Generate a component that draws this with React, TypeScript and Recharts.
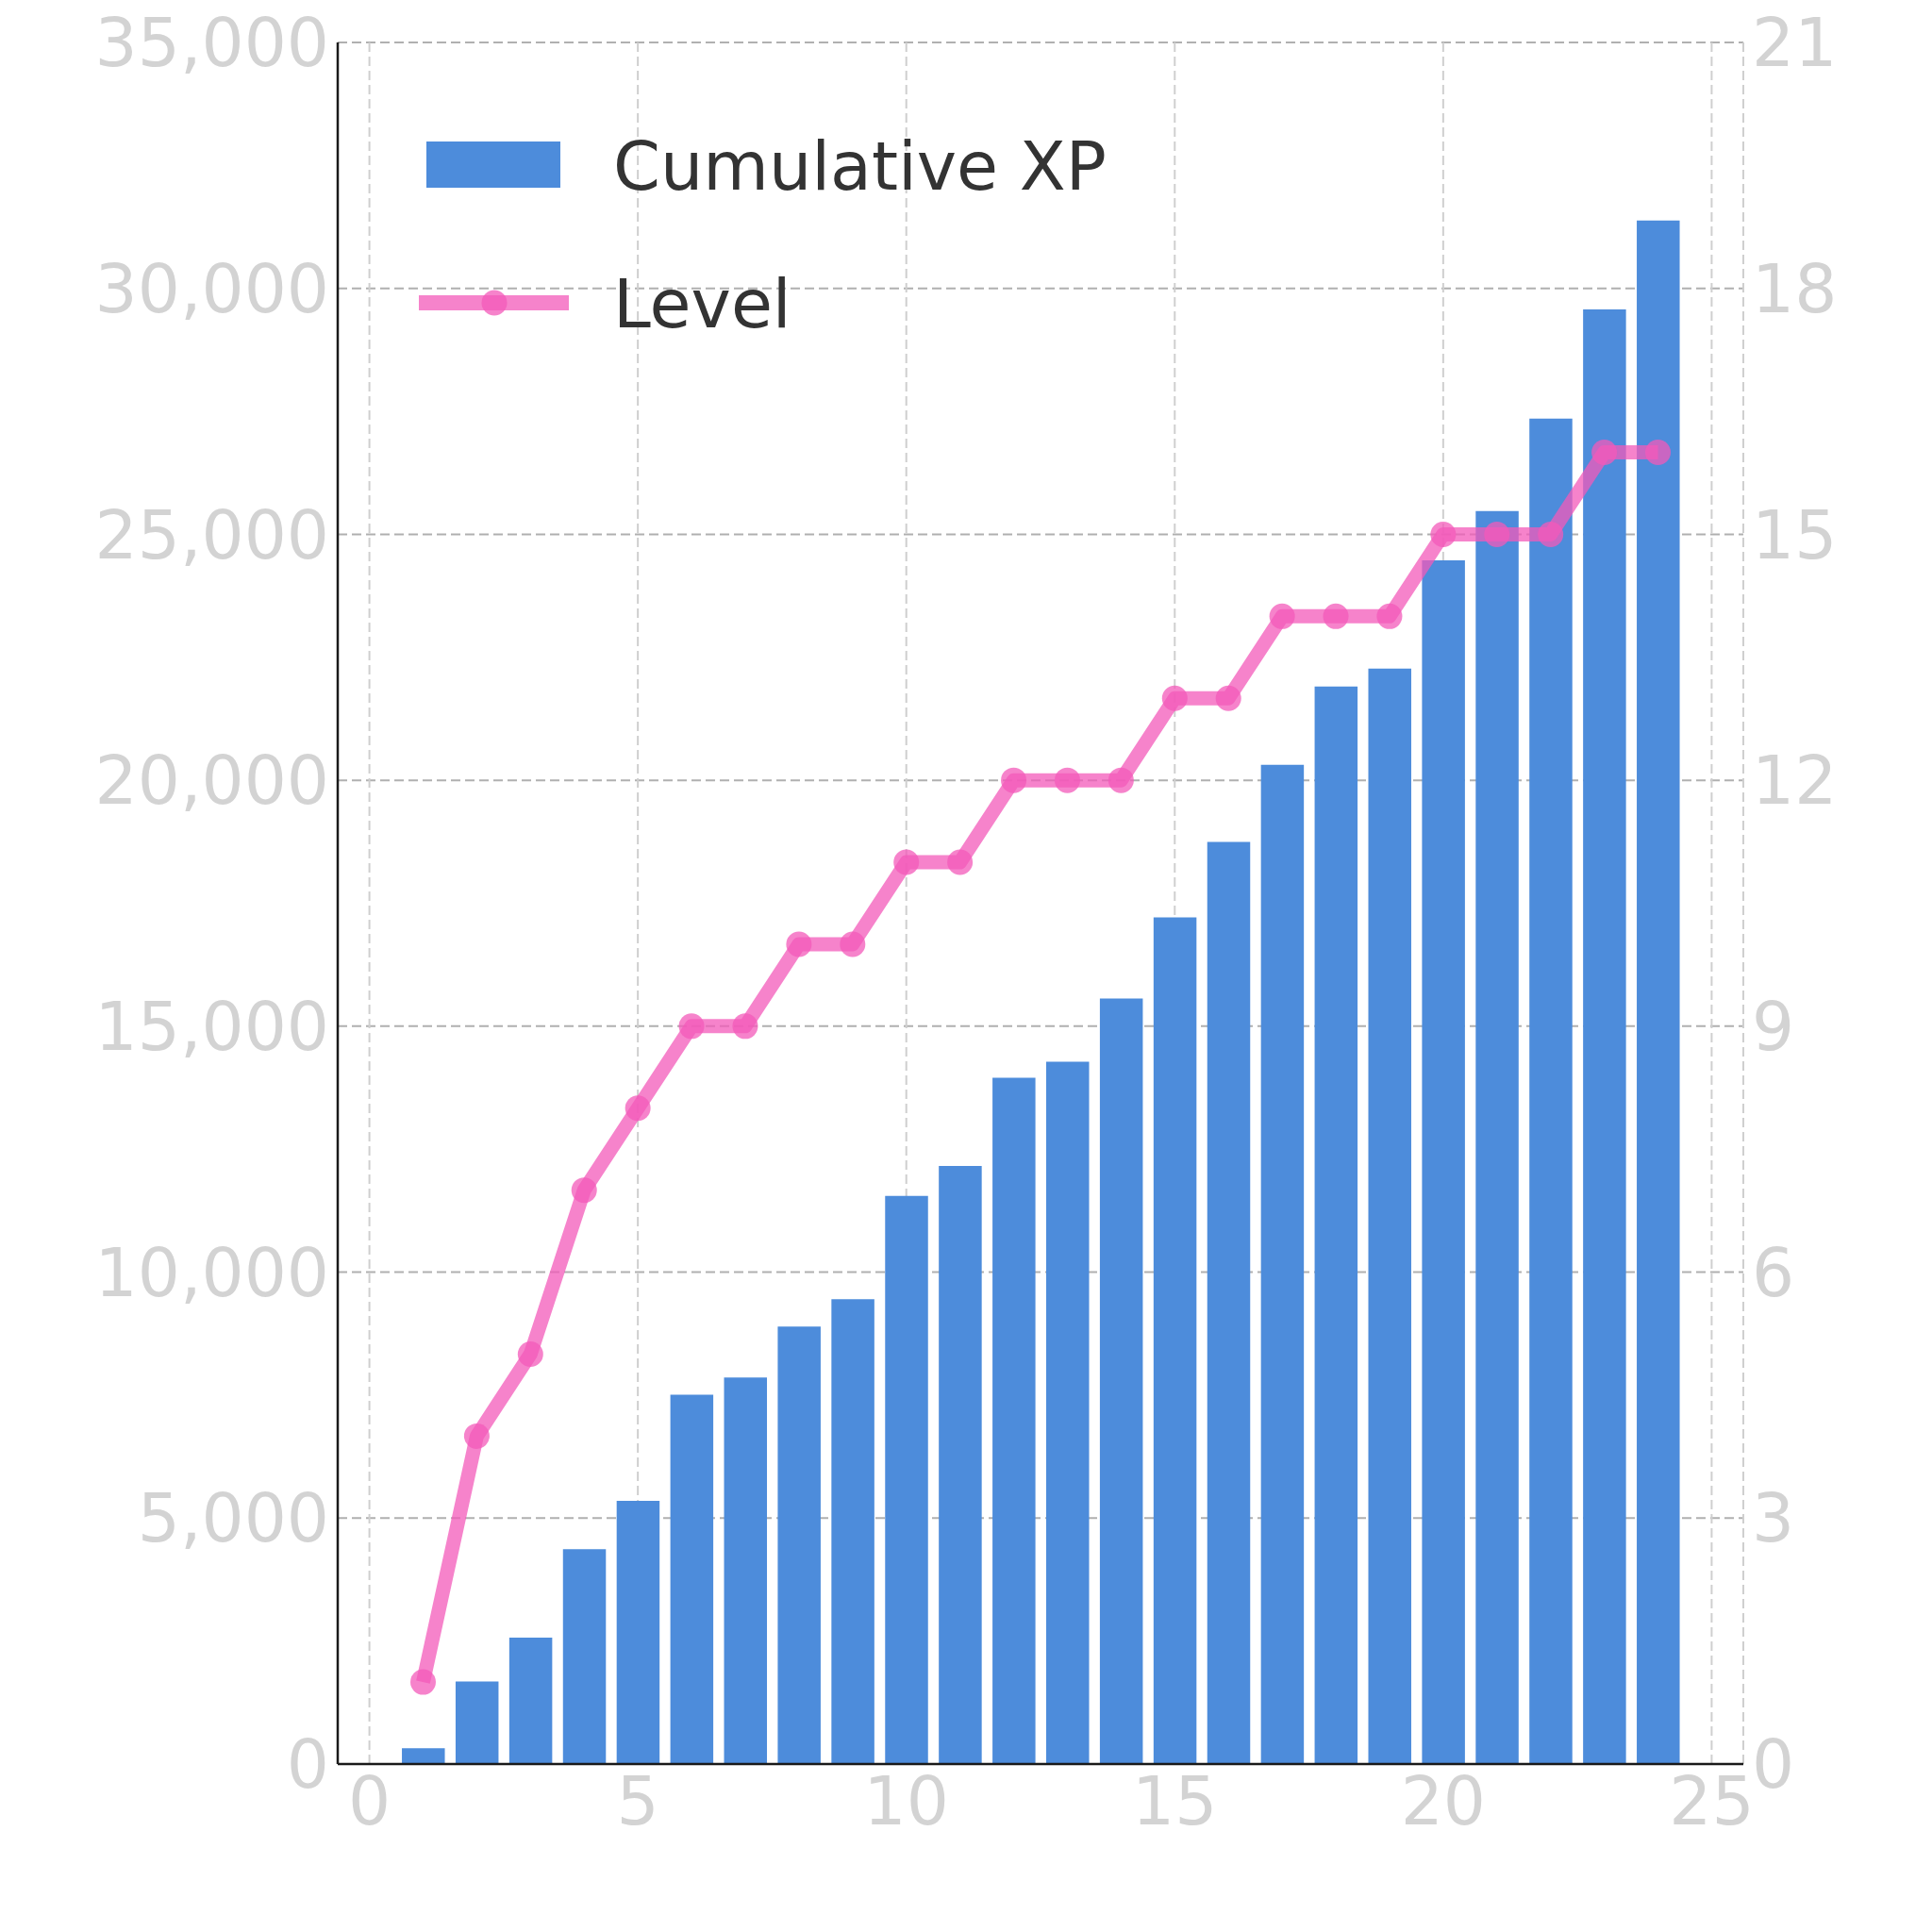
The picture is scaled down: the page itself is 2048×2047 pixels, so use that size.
import {
  ComposedChart,
  Bar,
  Line,
  XAxis,
  YAxis,
  CartesianGrid,
  Legend,
} from "recharts";

// data
const attempts = [1, 2, 3, 4, 5, 6, 7, 8, 9, 10, 11, 12, 13, 14, 15, 16, 17, 18, 19, 20, 21, 22, 23, 24];
const cumulativeXp = [
  320, 1680, 2570, 4370, 5350, 7510, 7860, 8895, 9450, 11550, 12160, 13950,
  14280, 15565, 17210, 18745, 20315, 21905, 22270, 24470, 25475, 27355, 29575, 31380,
];
const levels = [1, 4, 5, 7, 8, 9, 9, 10, 10, 11, 11, 12, 12, 12, 13, 13, 14, 14, 14, 15, 15, 15, 16, 16];

const xTicks = [0, 5, 10, 15, 20, 25];
const xpTicks = [0, 5000, 10000, 15000, 20000, 25000, 30000, 35000];
const levelTicks = [0, 3, 6, 9, 12, 15, 18, 21];

const seriesNames = { xp: "Cumulative XP", level: "Level" };

const BAR = "#4D8CDB";
const PINK = "#F359BA";
const PINK_ALPHA = 0.75;
const TICK = "#d3d3d3";
const FONT = "DejaVu Sans";

const rows = attempts.map((a, i) => ({ attempt: a, xp: cumulativeXp[i], level: levels[i] }));

const tickStyle = { fill: TICK, fontSize: 71, fontFamily: FONT };

// legend drawn like matplotlib's upper-left box (no frame)
function LegendBox() {
  const txt = { fontSize: 71.5, fontFamily: FONT, fill: "#333333" };
  return (
    <svg width={1300} height={400} style={{ display: "block", overflow: "visible" }}>
      <rect x={452} y={150} width={142} height={49} fill={BAR} />
      <text x={650} y={176} dy="0.355em" {...txt}>
        {seriesNames.xp}
      </text>
      <line
        x1={444}
        x2={603}
        y1={321}
        y2={321}
        stroke={PINK}
        strokeOpacity={PINK_ALPHA}
        strokeWidth={16}
      />
      <circle cx={524} cy={321} r={13.5} fill={PINK} fillOpacity={PINK_ALPHA} />
      <text x={650} y={322} dy="0.355em" {...txt}>
        {seriesNames.level}
      </text>
    </svg>
  );
}

export default function App() {
  // pull the chart into the page corner so its pixels line up with the reference
  return (
    <div style={{ width: 2048, height: 2000, margin: "-8px 0 0 -8px" }}>
      <ComposedChart
        width={2048}
        height={2000}
        data={rows}
        margin={{ top: 45, right: 0, bottom: 0, left: 0 }}
      >
        <XAxis
          dataKey="attempt"
          type="number"
          domain={[-0.59, 25.59]}
          ticks={xTicks}
          interval={0}
          height={130}
          tickSize={0}
          tickMargin={14}
          tickLine={false}
          axisLine={{ stroke: "#1a1a1a", strokeWidth: 2.5 }}
          tick={tickStyle}
        />
        <YAxis
          yAxisId="left"
          orientation="left"
          width={358}
          domain={[0, 35000]}
          ticks={xpTicks}
          interval={0}
          tickSize={0}
          tickMargin={9}
          tickLine={false}
          axisLine={{ stroke: "#1a1a1a", strokeWidth: 2.5 }}
          tick={tickStyle}
          tickFormatter={(v) => Number(v).toLocaleString("en-US")}
        />
        <YAxis
          yAxisId="right"
          orientation="right"
          width={200}
          domain={[0, 21]}
          ticks={levelTicks}
          interval={0}
          tickSize={0}
          tickMargin={9}
          tickLine={false}
          axisLine={false}
          tick={{ ...tickStyle, textAnchor: "start" }}
        />

        <Bar
          yAxisId="left"
          dataKey="xp"
          name={seriesNames.xp}
          fill={BAR}
          barSize={45.5}
          isAnimationActive={false}
        />

        {/* grid sits above the bars, as in the source */}
        <CartesianGrid
          yAxisId="left"
          vertical={false}
          horizontal
          stroke="#b0b0b0"
          strokeWidth={2}
          strokeDasharray="10 5"
        />
        <CartesianGrid
          yAxisId="left"
          horizontal={false}
          vertical
          stroke="#cfcfcf"
          strokeWidth={2}
          strokeDasharray="10 5"
        />

        <Line
          yAxisId="right"
          type="linear"
          dataKey="level"
          name={seriesNames.level}
          stroke={PINK}
          strokeOpacity={PINK_ALPHA}
          strokeWidth={15}
          strokeLinejoin="round"
          dot={{ r: 13.5, fill: PINK, fillOpacity: PINK_ALPHA, stroke: "none", strokeWidth: 0 }}
          activeDot={false}
          isAnimationActive={false}
        />

        <Legend
          layout="horizontal"
          verticalAlign="middle"
          align="center"
          wrapperStyle={{ left: 0, top: 0, width: 1300, height: 400 }}
          content={() => <LegendBox />}
        />
      </ComposedChart>
    </div>
  );
}
